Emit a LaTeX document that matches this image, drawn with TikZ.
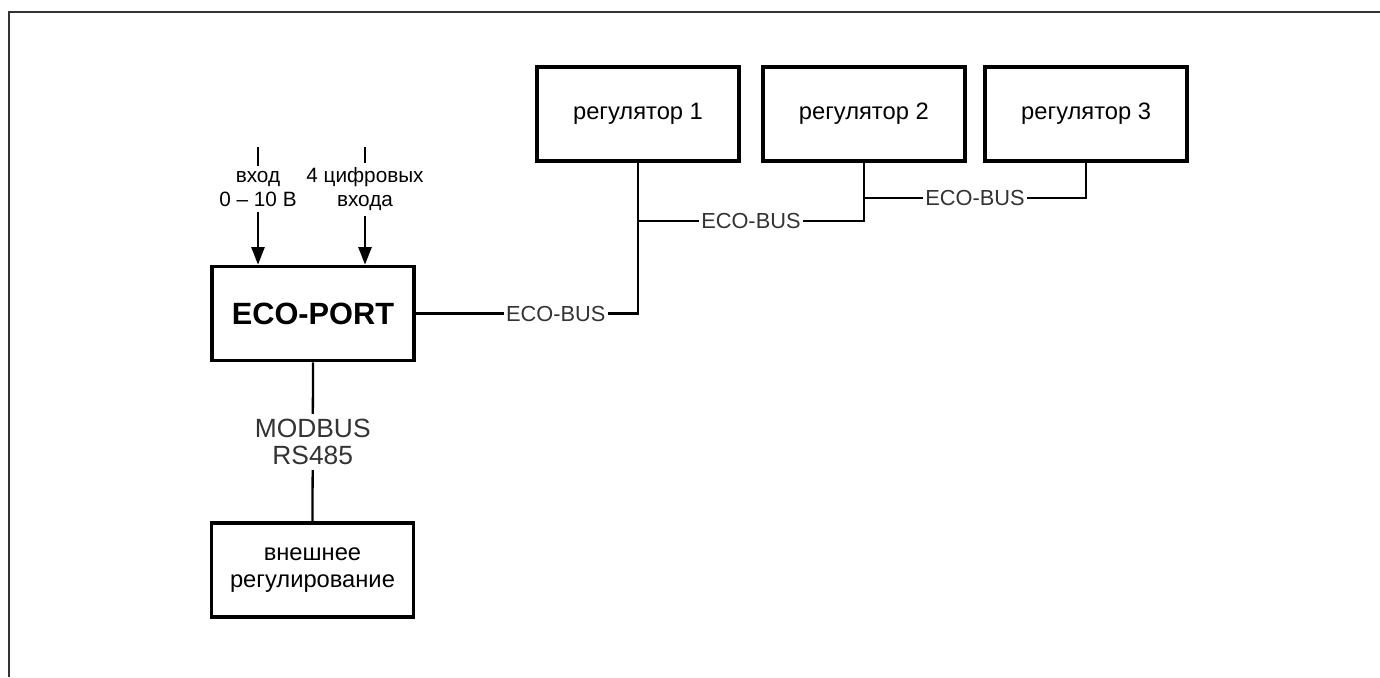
\documentclass[tikz,border=0pt]{standalone}
\usepackage{fontspec}
\setmainfont{Liberation Sans}
\usetikzlibrary{arrows.meta, positioning}

\begin{document}
\begin{tikzpicture}[
  x=0.02cm, y=-0.02cm,
  box/.style={rectangle, draw, line width=2.2pt, minimum width=4.04cm, minimum height=1.88cm,
    inner sep=0pt, align=center, font=\fontsize{13.5}{15.3}\selectfont},
  bus/.style={line width=1.3pt},
  buslabel/.style={fill=white, inner sep=1.5pt, text=black!80, font=\fontsize{12.4}{14}\selectfont},
  inlabel/.style={fill=white, inner sep=3pt, align=center, font=\fontsize{11.8}{13.6}\selectfont},
  >={Triangle[length=10pt,width=7.5pt]}
]
  \useasboundingbox (0,0) rectangle (1380,677);
  % frame
  \draw[line width=1.2pt, black!80] (9,677) |- (1380,12);

  \node[box, font=\fontsize{17.5}{20}\selectfont\bfseries] (port) at (313,313.5) {ECO-PORT};
  \node[box] (reg1) at (638,114) {регулятор 1};
  \node[box, right=0.4cm of reg1] (reg2) {регулятор 2};
  \node[box, right=0.33cm of reg2] (reg3) {регулятор 3};
  \node[box] (ext) at (312.5,570) {внешнее\\регулирование};

  \coordinate (in1) at (258,147);
  \coordinate (in2) at (365,147);
  \coordinate (j1) at (638,221);
  \coordinate (j2) at (864,198);

  % inputs
  \draw[bus, ->] (in1) -- node[inlabel, pos=0.36] {вход\\0 – 10 В} (in1 |- port.north);
  \draw[bus, ->] (in2) -- node[inlabel, pos=0.36] {4 цифровых\\входа} (in2 |- port.north);

  % ECO-BUS
  \draw[bus] (port.east) -- node[buslabel, pos=0.63] {ECO-BUS} (port.east -| reg1.south) -- (reg1.south);
  \draw[bus] (j1) -- node[buslabel] {ECO-BUS} (j1 -| reg2.south) -- (reg2.south);
  \draw[bus] (j2) -- node[buslabel] {ECO-BUS} (j2 -| reg3.south) -- (reg3.south);

  % MODBUS
  \draw[bus] (port.south) -- node[buslabel, align=center, inner sep=3pt, font=\fontsize{15}{15}\selectfont] {MODBUS\\RS485} (ext.north);
\end{tikzpicture}
\end{document}
